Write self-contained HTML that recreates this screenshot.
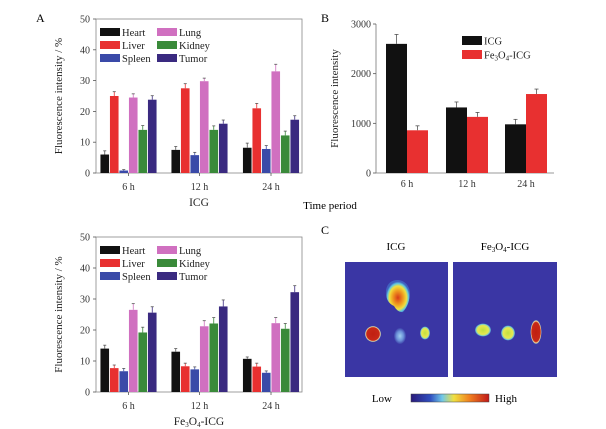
<!DOCTYPE html>
<html><head><meta charset="utf-8">
<style>
body{margin:0;background:#fff;}
svg{display:block;font-family:"Liberation Serif",serif;}
</style></head>
<body>
<svg id="fig" width="606" height="429" viewBox="0 0 606 429">
<text x="36" y="22" font-size="12">A</text>
<text x="321" y="22" font-size="12">B</text>
<text x="321" y="234" font-size="12">C</text>
<text x="330" y="209" font-size="11" text-anchor="middle">Time period</text>
<g id="chartA1"></g>
<g id="chartA2"></g>
<g id="chartB"></g>
<g id="panelC">
  <defs>
    <linearGradient id="cbar" x1="0" x2="1" y1="0" y2="0">
      <stop offset="0" stop-color="#2a1a7a"/><stop offset="0.25" stop-color="#3050c0"/>
      <stop offset="0.4" stop-color="#70c8e8"/><stop offset="0.55" stop-color="#f0e040"/>
      <stop offset="0.75" stop-color="#f08020"/><stop offset="1" stop-color="#c01818"/>
    </linearGradient>
    <radialGradient id="hot" cx="0.5" cy="0.55" r="0.5">
      <stop offset="0" stop-color="#d83a18"/><stop offset="0.45" stop-color="#f0a020"/>
      <stop offset="0.72" stop-color="#f0e040"/><stop offset="0.88" stop-color="#60c8e0"/><stop offset="1" stop-color="#4060c0"/>
    </radialGradient>
    <radialGradient id="red" cx="0.5" cy="0.5" r="0.5">
      <stop offset="0" stop-color="#c02010"/><stop offset="0.8" stop-color="#c82818"/><stop offset="0.92" stop-color="#f0e0a0"/><stop offset="1" stop-color="#4060c0"/>
    </radialGradient>
    <radialGradient id="yel" cx="0.5" cy="0.5" r="0.5">
      <stop offset="0" stop-color="#c0e040"/><stop offset="0.7" stop-color="#e8e850"/><stop offset="0.9" stop-color="#70c8d0"/><stop offset="1" stop-color="#4060c0"/>
    </radialGradient>
    <radialGradient id="cool" cx="0.5" cy="0.5" r="0.5">
      <stop offset="0" stop-color="#a0d0f0"/><stop offset="0.6" stop-color="#6a90d8"/><stop offset="1" stop-color="#3e42aa"/>
    </radialGradient>
  </defs>
  <text x="396" y="250" font-size="11" text-anchor="middle">ICG</text>
  <text x="505" y="250" font-size="11" text-anchor="middle">Fe<tspan font-size="7" dy="2">3</tspan><tspan dy="-2">O</tspan><tspan font-size="7" dy="2">4</tspan><tspan dy="-2">-ICG</tspan></text>
  <g>
    <rect x="345" y="262" width="103" height="115" fill="#3a36a4"/>
    <path d="M386 290 Q388 280 398 280 Q408 281 410 292 Q410 304 403 312 Q398 313 394 306 Q385 302 386 290 Z" fill="url(#hot)"/>
    <ellipse cx="373" cy="334" rx="8" ry="8" fill="url(#red)"/>
    <ellipse cx="400" cy="336" rx="6" ry="8" fill="url(#cool)"/>
    <ellipse cx="425" cy="333" rx="5" ry="6.5" fill="url(#yel)"/>
  </g>
  <g>
    <rect x="453" y="262" width="104" height="115" fill="#3a36a4"/>
    <ellipse cx="483" cy="330" rx="8" ry="6.5" fill="url(#yel)"/>
    <ellipse cx="508" cy="333" rx="7" ry="7.5" fill="url(#yel)"/>
    <ellipse cx="536" cy="332" rx="5.5" ry="12" fill="url(#red)"/>
  </g>
  <text x="392" y="402" font-size="11" text-anchor="end">Low</text>
  <rect x="411" y="394" width="78" height="8" fill="url(#cbar)" stroke="#444" stroke-width="0.5"/>
  <text x="495" y="402" font-size="11">High</text>
</g>
</svg>
<script>
const NS="http://www.w3.org/2000/svg";
const orgGroups=["6 h","12 h","24 h"];
const organs=["Heart","Liver","Spleen","Lung","Kidney","Tumor"];
const organColors=["#111111","#e83030","#3a4aa8","#d070c0","#3a8a3a","#3a2a80"];
const icgValues=[[6,7.5,8.2],[25,27.5,21],[0.8,5.8,7.8],[24.5,29.8,33],[14,14,12.2],[23.8,16,17.3]];
const icgErrors=[[1.2,1.1,1.5],[1.4,1.5,1.6],[0.3,0.9,1.1],[1.2,1,2.3],[1.4,1.3,1.4],[1.3,1.2,1.3]];
const feValues=[[14,13,10.7],[7.7,8.3,8.2],[6.7,7.3,6.2],[26.5,21.2,22.2],[19.2,22.1,20.4],[25.6,27.6,32.2]];
const feErrors=[[1.1,1,0.6],[1,1,1.1],[0.9,0.8,0.6],[2,1.8,1.8],[1.7,1.9,1.7],[1.9,2.1,2.1]];
const organTicks=[0,10,20,30,40,50];
const bGroups=["6 h","12 h","24 h"];
const bSeries=["ICG","Fe3O4-ICG"];
const bColors=["#111111","#e83030"];
const bValues=[[2600,1320,980],[860,1130,1590]];
const bErrors=[[190,110,100],[90,90,100]];
const bTicks=[0,1000,2000,3000];

function el(tag,attrs,parent){const e=document.createElementNS(NS,tag);for(const k in attrs)e.setAttribute(k,attrs[k]);parent.appendChild(e);return e;}

function organChart(gid,vals,errs,top,bottom,title,isFe){
  const g=document.getElementById(gid);
  const x0=96,x1=302;
  const y=v=>bottom-(v/50)*(bottom-top);
  const centers=[128.5,199.5,271];
  const step=9.5,bw=8.6;
  const frame=el("rect",{x:x0,y:top,width:x1-x0,height:bottom-top,fill:"none",stroke:"#888","stroke-width":0.8},g);
  
  
  organTicks.forEach(t=>{
    el("line",{x1:x0-3,x2:x0,y1:y(t),y2:y(t),stroke:"#555","stroke-width":0.8},g);
    const tx=el("text",{x:x0-6,y:y(t)+3.5,"font-size":10,"text-anchor":"end",fill:"#333"},g);
    tx.textContent=t;
    
    
  });
  orgGroups.forEach((gl,gi)=>{
    el("line",{x1:centers[gi],x2:centers[gi],y1:bottom,y2:bottom+3,stroke:"#555","stroke-width":0.8},g);
    const tx=el("text",{x:centers[gi],y:bottom+17,"font-size":10,"text-anchor":"middle",fill:"#333"},g);
    tx.textContent=gl;
    
    
    organs.forEach((o,oi)=>{
      const bx=centers[gi]-3*step+oi*step+(step-bw)/2;
      const v=vals[oi][gi],e=errs[oi][gi];
      const r=el("rect",{x:bx,y:y(v),width:bw,height:bottom-y(v),fill:organColors[oi]},g);
      
      
      const cx=bx+bw/2;
      el("line",{x1:cx,x2:cx,y1:y(v),y2:y(v+e),stroke:organColors[oi]=="#111111"?"#555":organColors[oi],"stroke-width":0.8},g);
      el("line",{x1:cx-1.5,x2:cx+1.5,y1:y(v+e),y2:y(v+e),stroke:"#555","stroke-width":0.8},g);
    });
  });
  organs.forEach((o,oi)=>{
    const col=oi<3?0:1;
    const lx=col? 157:100, ly=top+9+(oi%3)*13;
    const r=el("rect",{x:lx,y:ly,width:20,height:8,fill:organColors[oi]},g);
    
    
    const t=el("text",{x:lx+22,y:ly+8,"font-size":10.5,fill:"#222"},g);
    t.textContent=o;
    
    
  });
  const yt=el("text",{x:0,y:0,"font-size":11,"text-anchor":"middle",transform:`translate(62,${(top+bottom)/2}) rotate(-90)`,fill:"#222"},g);
  yt.textContent="Fluorescence intensity / %";
  
  
  const xt=el("text",{x:199,y:bottom+33,"font-size":11.5,"text-anchor":"middle",fill:"#222"},g);
  if(isFe){xt.innerHTML='Fe<tspan font-size="7" dy="2">3</tspan><tspan dy="-2">O</tspan><tspan font-size="7" dy="2">4</tspan><tspan dy="-2">-ICG</tspan>';}
  else xt.textContent=title;
  
  
}
organChart("chartA1",icgValues,icgErrors,19,173,"ICG",false);
organChart("chartA2",feValues,feErrors,237,392,"Fe3O4-ICG",true);

(function(){
  const g=document.getElementById("chartB");
  const x0=376,x1=554,top=24,bottom=173;
  const y=v=>bottom-(v/3000)*(bottom-top);
  const centers=[407,467,526],bw=21;
  el("line",{x1:x0,x2:x0,y1:top,y2:bottom,stroke:"#777","stroke-width":0.8},g);
  el("line",{x1:x0,x2:x1,y1:bottom,y2:bottom,stroke:"#777","stroke-width":0.8},g);
  bTicks.forEach(t=>{
    el("line",{x1:x0-3,x2:x0,y1:y(t),y2:y(t),stroke:"#555","stroke-width":0.8},g);
    const tx=el("text",{x:x0-5,y:y(t)+3.5,"font-size":10,"text-anchor":"end",fill:"#333"},g);
    tx.textContent=t;
    
    
  });
  bGroups.forEach((gl,gi)=>{
    const tx=el("text",{x:centers[gi],y:bottom+14,"font-size":10,"text-anchor":"middle",fill:"#333"},g);
    tx.textContent=gl;
    
    
    bSeries.forEach((s,si)=>{
      const bx=centers[gi]-bw+si*bw;
      const v=bValues[si][gi],e=bErrors[si][gi];
      const r=el("rect",{x:bx,y:y(v),width:bw,height:bottom-y(v),fill:bColors[si]},g);
      
      
      const cx=bx+bw/2;
      el("line",{x1:cx,x2:cx,y1:y(v),y2:y(v+e),stroke:"#555","stroke-width":0.8},g);
      el("line",{x1:cx-2,x2:cx+2,y1:y(v+e),y2:y(v+e),stroke:"#555","stroke-width":0.8},g);
    });
  });
  bSeries.forEach((s,si)=>{
    const ly=36+si*14;
    const r=el("rect",{x:462,y:ly,width:20,height:9,fill:bColors[si]},g);
    
    
    const t=el("text",{x:484,y:ly+8.5,"font-size":10.5,fill:"#222"},g);
    if(si)t.innerHTML='Fe<tspan font-size="7" dy="2">3</tspan><tspan dy="-2">O</tspan><tspan font-size="7" dy="2">4</tspan><tspan dy="-2">-ICG</tspan>';
    else t.textContent=s;
    
    
  });
  const yt=el("text",{x:0,y:0,"font-size":11,"text-anchor":"middle",transform:`translate(338,${(top+bottom)/2}) rotate(-90)`,fill:"#222"},g);
  yt.textContent="Fluorescence intensity";
  
  
})();
</script>
</body></html>
